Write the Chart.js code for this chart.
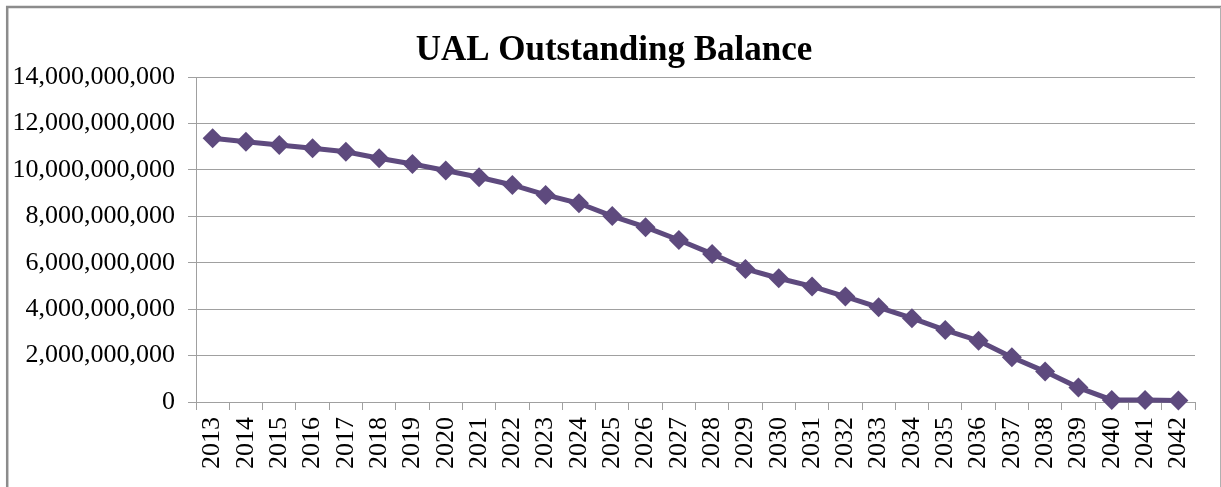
<!DOCTYPE html>
<html>
<head>
<meta charset="utf-8">
<script src="https://cdn.jsdelivr.net/npm/chart.js@4/dist/chart.umd.min.js"></script>
<style>
  html, body { margin: 0; padding: 0; background: #fff; }
  #wrap { width: 1221px; height: 487px; position: relative; }
</style>
</head>
<body>
<div id="wrap"><canvas id="c" width="1221" height="487"></canvas></div>
<script>
const chartTitle = 'UAL Outstanding Balance';
const years = ['2013','2014','2015','2016','2017','2018','2019','2020','2021','2022',
               '2023','2024','2025','2026','2027','2028','2029','2030','2031','2032',
               '2033','2034','2035','2036','2037','2038','2039','2040','2041','2042'];
const balances = [11360000000, 11210000000, 11070000000, 10930000000, 10780000000,
                  10500000000, 10250000000, 9970000000, 9680000000, 9350000000,
                  8920000000, 8560000000, 8010000000, 7530000000, 6980000000,
                  6380000000, 5730000000, 5330000000, 4980000000, 4540000000,
                  4080000000, 3610000000, 3100000000, 2640000000, 1930000000,
                  1310000000, 620000000, 90000000, 90000000, 60000000];
const yTicks = [0, 2000000000, 4000000000, 6000000000, 8000000000, 10000000000, 12000000000, 14000000000];

const SERIF = '"Liberation Serif", "Times New Roman", serif';
const PURPLE = '#5E4A7E';
const GRID = '#A0A0A0';

const frame = {
  id: 'frame',
  beforeDraw(chart) {
    const ctx = chart.ctx;
    ctx.save();
    ctx.fillStyle = '#fff';
    ctx.fillRect(0, 0, chart.width, chart.height);
    ctx.strokeStyle = '#8C8C8C';
    ctx.lineWidth = 2.5;
    ctx.beginPath();
    ctx.moveTo(7.2, 487);
    ctx.lineTo(7.2, 7);
    ctx.lineTo(1221, 7);
    ctx.stroke();
    ctx.strokeStyle = '#B0B0B0';
    ctx.lineWidth = 1;
    ctx.beginPath();
    ctx.moveTo(1220.5, 7);
    ctx.lineTo(1220.5, 487);
    ctx.stroke();
    ctx.restore();
  },
  afterDraw(chart) {
    const ctx = chart.ctx;
    ctx.save();
    ctx.fillStyle = '#000';
    ctx.font = 'bold 35px ' + SERIF;
    ctx.textAlign = 'center';
    ctx.textBaseline = 'alphabetic';
    ctx.fillText(chartTitle, 614, 59.5);
    ctx.restore();
  }
};

new Chart(document.getElementById('c'), {
  type: 'line',
  data: {
    labels: years,
    datasets: [{
      data: balances,
      borderColor: PURPLE,
      backgroundColor: PURPLE,
      borderWidth: 5,
      pointStyle: 'rectRot',
      pointRadius: 10,
      pointBorderWidth: 0,
      pointBackgroundColor: PURPLE,
      tension: 0,
      fill: false,
      clip: false
    }]
  },
  plugins: [frame],
  options: {
    responsive: false,
    animation: false,
    devicePixelRatio: 1,
    layout: { padding: { top: 77, right: 26, bottom: 0, left: 0 } },
    plugins: {
      legend: { display: false },
      title: { display: false },
      tooltip: { enabled: false }
    },
    scales: {
      x: {
        offset: true,
        grid: { display: true, offset: true, drawOnChartArea: false, drawTicks: true, tickLength: 8, color: GRID, lineWidth: 1 },
        border: { display: true, color: GRID, width: 1 },
        ticks: {
          autoSkip: false, minRotation: 90, maxRotation: 90, padding: 7,
          color: '#000', font: { family: SERIF, size: 26 }
        },
        afterFit(scale) { scale.height = 85; }
      },
      y: {
        min: 0, max: 14000000000,
        afterBuildTicks(scale) { scale.ticks = yTicks.map(v => ({ value: v })); },
        grid: { color: GRID, lineWidth: 1, drawTicks: true, tickLength: 8 },
        border: { display: true, color: GRID, width: 1 },
        ticks: {
          padding: 13, color: '#000', font: { family: SERIF, size: 26 },
          callback: (v) => Number(v).toLocaleString('en-US')
        },
        afterFit(scale) { scale.width = 196; }
      }
    }
  }
});
</script>
</body>
</html>
